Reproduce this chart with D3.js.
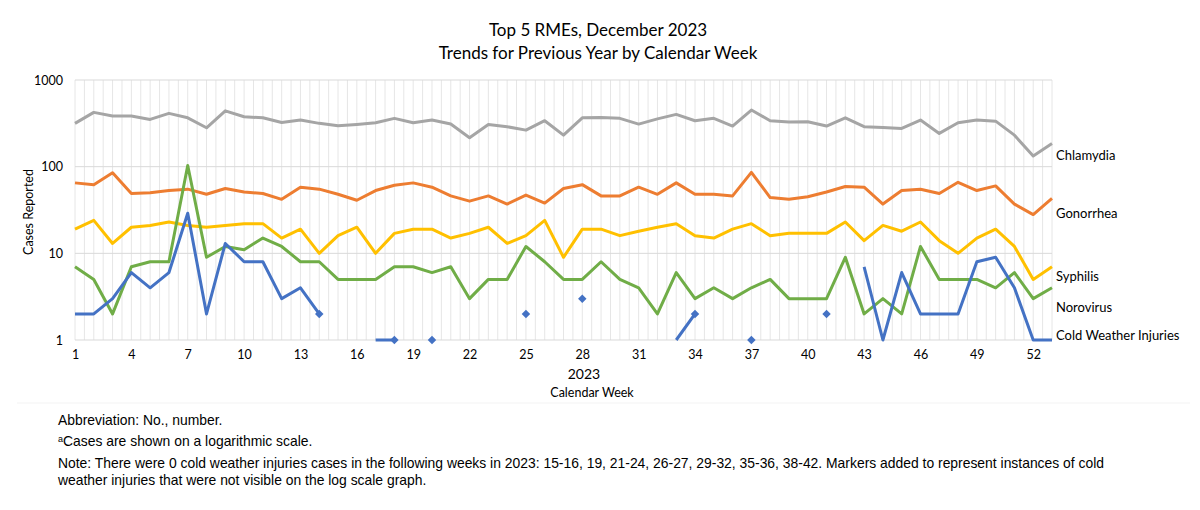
<!DOCTYPE html>
<html>
<head>
<meta charset="utf-8">
<script src="https://cdn.jsdelivr.net/npm/d3@7"></script>
<style>
  body { margin: 0; background: #fff; }
  svg { display: block; }
  .tick text { font-family: Lato, sans-serif; font-size: 12.5px; fill: #000; }
</style>
</head>
<body>
<svg id="chart"></svg>
<script>
// weekly counts, 2023 calendar weeks 1-53
const weeks = d3.range(1, 54);
const weekTicks = [1, 4, 7, 10, 13, 16, 19, 22, 25, 28, 31, 34, 37, 40, 43, 46, 49, 52];
const yTicks = [1, 10, 100, 1000];

const chlamydia = [316, 423, 384, 384, 351, 412, 366, 281, 441, 377,
  366, 324, 345, 316, 296, 307, 321, 361, 321, 345,
  310, 216, 307, 289, 264, 339, 231, 366, 370, 361,
  310, 356, 401, 339, 361, 294, 450, 339, 327, 330,
  294, 366, 289, 284, 276, 345, 242, 321, 345, 335,
  231, 133, 185];
const gonorrhea = [65, 62, 85, 49, 50, 53, 55, 48, 56, 51,
  49, 42, 58, 55, 48, 41, 53, 61, 65, 58,
  46, 40, 46, 37, 47, 38, 56, 62, 46, 46,
  58, 48, 65, 48, 48, 46, 86, 44, 42, 45,
  51, 59, 58, 37, 53, 55, 49, 66, 53, 60,
  37, 28, 43];
const syphilis = [19, 24, 13, 20, 21, 23, 21, 20, 21, 22,
  22, 15, 19, 10, 16, 20, 10, 17, 19, 19,
  15, 17, 20, 13, 16, 24, 9, 19, 19, 16,
  18, 20, 22, 16, 15, 19, 22, 16, 17, 17,
  17, 23, 14, 21, 18, 23, 14, 10, 15, 19,
  12, 5, 7];
const norovirus = [7, 5, 2, 7, 8, 8, 103, 9, 12, 11,
  15, 12, 8, 8, 5, 5, 5, 7, 7, 6,
  7, 3, 5, 5, 12, 8, 5, 5, 8, 5,
  4, 2, 6, 3, 4, 3, 4, 5, 3, 3,
  3, 9, 2, 3, 2, 12, 5, 5, 5, 4,
  6, 3, 4];
// null = 0 cases (not drawable on log scale)
const coldWeather = [2, 2, 3, 6, 4, 6, 29, 2, 13, 8,
  8, 3, 4, 2, null, null, 1, 1, null, 1,
  null, null, null, null, 2, null, null, 3, null, null,
  null, null, 1, 2, null, null, 1, null, null, null,
  2, null, 7, 1, 6, 2, 2, 2, 8, 9,
  4, 1, 1];
const coldMarkerWeeks = [14, 18, 20, 25, 28, 34, 37, 41];

const series = [
  { name: 'Chlamydia', values: chlamydia, color: '#A5A5A5', labelY: 157 },
  { name: 'Gonorrhea', values: gonorrhea, color: '#ED7D31', labelY: 215 },
  { name: 'Syphilis', values: syphilis, color: '#FFC000', labelY: 278 },
  { name: 'Norovirus', values: norovirus, color: '#70AD47', labelY: 309 },
  { name: 'Cold Weather Injuries', values: coldWeather, color: '#4472C4', labelY: 337 }
];

const w = 1200, h = 510;
const svg = d3.select('#chart').attr('width', w).attr('height', h);

const x = d3.scaleLinear().domain([1, 53]).range([75, 1052]);
const y = d3.scaleLog().domain([1, 1000]).range([340, 80]);

// titles
svg.append('text').attr('x', 598).attr('y', 36).attr('text-anchor', 'middle')
  .style('font-family', 'Lato, sans-serif').style('font-size', '17px')
  .text('Top 5 RMEs, December 2023');
svg.append('text').attr('x', 598).attr('y', 59).attr('text-anchor', 'middle')
  .style('font-family', 'Lato, sans-serif').style('font-size', '17px')
  .text('Trends for Previous Year by Calendar Week');

// gridlines: every half week + decades
const grid = svg.append('g');
grid.selectAll('line.v')
  .data(d3.range(1, 53.5, 0.5))
  .enter().append('line')
  .attr('x1', d => x(d)).attr('x2', d => x(d))
  .attr('y1', y(1000)).attr('y2', y(1))
  .attr('stroke', '#e6e6e6').attr('stroke-width', 1);
grid.selectAll('line.h')
  .data(yTicks)
  .enter().append('line')
  .attr('x1', x(1)).attr('x2', x(53))
  .attr('y1', d => y(d)).attr('y2', d => y(d))
  .attr('stroke', '#d9d9d9').attr('stroke-width', 1);

// axes
const yAxis = d3.axisLeft(y).tickValues(yTicks).tickFormat(d3.format('d')).tickSize(0).tickPadding(12);
svg.append('g').attr('transform', 'translate(' + x(1) + ',0)').call(yAxis)
  .call(g => g.select('.domain').remove());

const xAxis = d3.axisBottom(x).tickValues(weekTicks).tickFormat(d3.format('d')).tickSize(0).tickPadding(10);
svg.append('g').attr('transform', 'translate(0,' + y(1) + ')').call(xAxis)
  .call(g => g.select('.domain').remove());

svg.append('text').attr('x', 584).attr('y', 379).attr('text-anchor', 'middle')
  .style('font-family', 'Lato, sans-serif').style('font-size', '14px')
  .text('2023');
svg.append('text').attr('x', 592).attr('y', 397).attr('text-anchor', 'middle')
  .style('font-family', 'Lato, sans-serif').style('font-size', '12.5px')
  .text('Calendar Week');
svg.append('text').attr('transform', 'translate(33,212) rotate(-90)').attr('text-anchor', 'middle')
  .style('font-family', 'Lato, sans-serif').style('font-size', '12.5px')
  .text('Cases Reported');

// faint chart-area bottom border
svg.append('line').attr('x1', 17).attr('x2', 1190).attr('y1', 403).attr('y2', 403)
  .attr('stroke', '#f3f3f3');

// lines
const line = d3.line()
  .defined(d => d.v != null)
  .x(d => x(d.week))
  .y(d => y(d.v));

series.forEach(s => {
  const pts = weeks.map((wk, i) => ({ week: wk, v: s.values[i] }));
  svg.append('path')
    .datum(pts)
    .attr('fill', 'none')
    .attr('stroke', s.color)
    .attr('stroke-width', 3)
    .attr('stroke-linejoin', 'round')
    .attr('d', line);

  svg.append('text')
    .attr('x', 1056).attr('y', s.labelY)
    .attr('dominant-baseline', 'middle')
    .style('font-family', 'Lato, sans-serif').style('font-size', '13px')
    .text(s.name);
});

// diamond markers (rotated squares) for cold weather injuries not visible as lines
svg.selectAll('path.marker')
  .data(coldMarkerWeeks)
  .enter().append('path')
  .attr('class', 'marker')
  .attr('d', d3.symbol().type(d3.symbolSquare).size(36))
  .attr('transform', d => 'translate(' + x(d) + ',' + y(coldWeather[d - 1]) + ') rotate(45)')
  .attr('fill', '#4472C4');

// footnotes
const notes = svg.append('g').style('font-family', '"Liberation Sans", Arial, sans-serif')
  .style('font-size', '13.9px');
notes.append('text').attr('x', 58).attr('y', 425).text('Abbreviation: No., number.');
const n2 = notes.append('text').attr('x', 58).attr('y', 446);
n2.append('tspan').attr('font-size', '9px').attr('dy', -4).text('a');
n2.append('tspan').attr('dy', 4).text('Cases are shown on a logarithmic scale.');
notes.append('text').attr('x', 58).attr('y', 468)
  .text('Note: There were 0 cold weather injuries cases in the following weeks in 2023: 15-16, 19, 21-24, 26-27, 29-32, 35-36, 38-42. Markers added to represent instances of cold');
notes.append('text').attr('x', 58).attr('y', 485)
  .text('weather injuries that were not visible on the log scale graph.');
</script>
</body>
</html>
